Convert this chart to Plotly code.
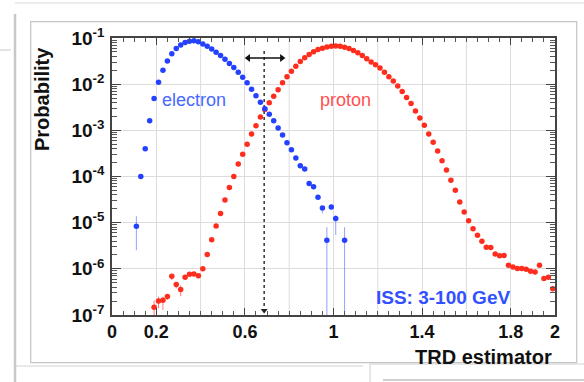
import plotly.graph_objects as go

# ---------------- data ----------------
electron_x = [0.11, 0.13, 0.15, 0.17, 0.19, 0.21, 0.23, 0.25, 0.27, 0.29,
              0.31, 0.33, 0.35, 0.37, 0.39, 0.41, 0.43, 0.45, 0.47, 0.49,
              0.51, 0.53, 0.55, 0.57, 0.59, 0.61, 0.63, 0.65, 0.67, 0.69,
              0.71, 0.73, 0.75, 0.77, 0.79, 0.81, 0.83, 0.85, 0.87, 0.89,
              0.91, 0.93, 0.95, 0.97, 0.99, 1.01, 1.05]
electron_p = [8.32e-6, 1.00e-4, 3.98e-4, 1.62e-3, 4.90e-3, 1.10e-2, 2.00e-2, 3.16e-2, 4.57e-2, 5.89e-2,
              7.08e-2, 7.94e-2, 8.51e-2, 8.71e-2, 8.32e-2, 7.41e-2, 6.61e-2, 5.75e-2, 4.90e-2, 4.17e-2,
              3.47e-2, 2.82e-2, 2.29e-2, 1.82e-2, 1.41e-2, 1.07e-2, 7.76e-3, 5.62e-3, 4.07e-3, 2.95e-3,
              2.24e-3, 1.62e-3, 1.12e-3, 7.94e-4, 5.37e-4, 3.80e-4, 2.51e-4, 1.70e-4, 1.45e-4, 7.08e-5,
              6.03e-5, 3.55e-5, 2.09e-5, 4.17e-6, 2.19e-5, 1.23e-5, 4.17e-6]
# visible error bars (x: (up, down)); others are negligible
electron_err = {0.11: (5.5e-6, 5.8e-6), 0.95: (2.0e-6, 5.0e-6), 0.97: (3.8e-6, 4.13e-6),
                0.99: (3.0e-6, 3.0e-6), 1.01: (2.2e-6, 6.9e-6), 1.05: (3.8e-6, 4.13e-6)}

proton_x = [round(0.19 + 0.02 * i, 2) for i in range(91)]
proton_p = [1.48e-7, 2.00e-7, 2.09e-7, 2.51e-7, 6.92e-7, 4.57e-7, 3.55e-7, 6.61e-7, 7.59e-7, 7.70e-7,
            7.08e-7, 1.00e-6, 2.04e-6, 4.27e-6, 8.51e-6, 1.58e-5, 3.09e-5, 5.75e-5, 1.00e-4, 1.86e-4,
            3.02e-4, 5.01e-4, 8.32e-4, 1.26e-3, 1.95e-3, 2.82e-3, 3.98e-3, 5.50e-3, 7.59e-3, 1.07e-2,
            1.45e-2, 1.91e-2, 2.45e-2, 3.09e-2, 3.72e-2, 4.37e-2, 5.01e-2, 5.62e-2, 6.03e-2, 6.38e-2,
            6.61e-2, 6.68e-2, 6.61e-2, 6.31e-2, 5.89e-2, 5.37e-2, 4.79e-2, 4.17e-2, 3.55e-2, 3.02e-2,
            2.63e-2, 2.24e-2, 1.82e-2, 1.45e-2, 1.17e-2, 9.12e-3, 6.92e-3, 5.13e-3, 3.80e-3, 2.63e-3,
            1.86e-3, 1.29e-3, 8.32e-4, 5.50e-4, 3.55e-4, 2.19e-4, 1.38e-4, 8.32e-5, 5.01e-5, 2.82e-5,
            1.70e-5, 1.10e-5, 7.41e-6, 5.37e-6, 3.98e-6, 2.95e-6, 2.88e-6, 2.09e-6, 1.91e-6, 1.95e-6,
            1.20e-6, 1.10e-6, 1.02e-6, 1.02e-6, 9.77e-7, 8.91e-7, 8.51e-7, 1.20e-6, 6.17e-7, 6.61e-7,
            3.72e-7]
proton_err = {0.19: (0.6e-7, 1.0e-7), 0.21: (0.5e-7, 0.6e-7), 0.23: (0.4e-7, 0.8e-7),
              0.25: (0.3e-7, 0.4e-7), 0.27: (0.8e-7, 1.2e-7), 0.29: (0.6e-7, 0.8e-7),
              0.31: (0.8e-7, 1.0e-7), 0.33: (0.6e-7, 0.7e-7), 0.35: (0.5e-7, 0.5e-7),
              0.37: (0.5e-7, 0.5e-7), 0.39: (0.5e-7, 0.5e-7), 0.41: (0.5e-7, 0.5e-7)}

cut_x = 0.687
arrow_x = [0.615, 0.767]
arrow_p = 3.7e-2

x_tickvals = [0, 0.2, 0.6, 1.0, 1.4, 1.8, 2.0]
x_ticktext = ["0", "0.2", "0.6", "1", "1.4", "1.8", "2"]
x_extra_grid = [0.4, 0.8, 1.2, 1.6]
y_tickvals = [1e-7, 1e-6, 1e-5, 1e-4, 1e-3, 1e-2, 1e-1]
y_ticktext = ["10<sup>-7</sup>", "10<sup>-6</sup>", "10<sup>-5</sup>", "10<sup>-4</sup>",
              "10<sup>-3</sup>", "10<sup>-2</sup>", "10<sup>-1</sup>"]

# ---------------- figure ----------------
W, H = 584, 382
ML, MR, MT, MB = 112, 29, 38, 67
PW, PH = W - ML - MR, H - MT - MB


def px(xp):
    return (xp - ML) / PW


def py(yp):
    return (H - MB - yp) / PH


BLUE = "rgb(35,65,255)"
RED = "rgb(255,45,30)"
GRID = "#dcdcdc"

e_up = [electron_err.get(x, (0, 0))[0] for x in electron_x]
e_dn = [electron_err.get(x, (0, 0))[1] for x in electron_x]
p_up = [proton_err.get(x, (0, 0))[0] for x in proton_x]
p_dn = [proton_err.get(x, (0, 0))[1] for x in proton_x]

fig = go.Figure()

# cut line and arrow
fig.add_trace(go.Scatter(x=[cut_x, cut_x], y=[5.2e-2, 1e-7], mode="lines",
                         line=dict(color="#333", width=1.5, dash="3px,3px"),
                         hoverinfo="skip", showlegend=False))
fig.add_trace(go.Scatter(x=arrow_x, y=[arrow_p, arrow_p], mode="lines+markers",
                         line=dict(color="#111", width=1.5),
                         marker=dict(symbol=["triangle-left", "triangle-right"], size=7, color="#111"),
                         hoverinfo="skip", showlegend=False))
fig.add_trace(go.Scatter(x=[cut_x], y=[1.25e-7], mode="markers",
                         marker=dict(symbol="triangle-down", size=6, color="#222"),
                         hoverinfo="skip", showlegend=False))

fig.add_trace(go.Scatter(
    x=proton_x, y=proton_p, mode="markers", name="proton",
    marker=dict(color=RED, size=5.5),
    error_y=dict(type="data", symmetric=False, array=p_up, arrayminus=p_dn,
                 color="rgba(255,70,60,0.7)", thickness=1, width=0),
    showlegend=False))
fig.add_trace(go.Scatter(
    x=electron_x, y=electron_p, mode="markers", name="electron",
    marker=dict(color=BLUE, size=5.5),
    error_y=dict(type="data", symmetric=False, array=e_up, arrayminus=e_dn,
                 color="rgba(70,100,255,0.6)", thickness=1, width=0),
    showlegend=False))

tickfont = dict(family="Liberation Sans", size=18, color="#111", weight="bold")

fig.update_xaxes(
    range=[0, 2], tickmode="array", tickvals=x_tickvals, ticktext=x_ticktext,
    ticks="inside", ticklen=7, tickcolor="#444", tickwidth=1,
    minor=dict(dtick=0.05, tick0=0, ticks="inside", ticklen=4, tickcolor="#555", showgrid=False),
    showgrid=True, gridcolor=GRID, gridwidth=1,
    showline=True, linecolor="#444", linewidth=1.5, mirror="allticks",
    tickfont=tickfont, zeroline=False)

minor_y = [m * 10 ** e for e in range(-7, -1) for m in range(2, 10)]
fig.update_yaxes(
    type="log", range=[-7, -1], tickmode="array", tickvals=y_tickvals, ticktext=y_ticktext,
    ticks="inside", ticklen=9, tickcolor="#444", tickwidth=1,
    minor=dict(tickmode="array", tickvals=minor_y, ticks="inside", ticklen=5,
               tickcolor="#555", showgrid=False),
    showgrid=True, gridcolor=GRID, gridwidth=1,
    showline=True, linecolor="#444", linewidth=1.5, mirror="allticks",
    tickfont=dict(family="Liberation Sans", size=19, color="#111", weight="bold"),
    zeroline=False, ticklabelstandoff=2)

ann_font_b = dict(family="Liberation Sans", size=20, color="#111", weight="bold")
annotations = [
    dict(text="Probability", xref="paper", yref="paper", x=px(42), y=py(99),
         textangle=-90, showarrow=False, font=ann_font_b, xanchor="center", yanchor="middle"),
    dict(text="TRD estimator", xref="paper", yref="paper", x=px(554), y=py(357),
         showarrow=False, font=ann_font_b, xanchor="right", yanchor="middle"),
    dict(text="electron", xref="paper", yref="paper", x=px(194), y=py(100),
         showarrow=False, font=dict(family="Liberation Sans", size=18, color="rgb(70,105,255)"),
         xanchor="center", yanchor="middle"),
    dict(text="proton", xref="paper", yref="paper", x=px(345), y=py(100),
         showarrow=False, font=dict(family="Liberation Sans", size=18, color="rgb(255,80,80)"),
         xanchor="center", yanchor="middle"),
    dict(text="ISS: 3-100 GeV", xref="paper", yref="paper", x=px(443), y=py(297),
         showarrow=False, font=dict(family="Liberation Sans", size=19, color="rgb(50,80,255)", weight="bold"),
         xanchor="center", yanchor="middle"),
]

shapes = [
    # outer panel frame
    dict(type="rect", xref="paper", yref="paper", x0=px(30.7), x1=px(576.7), y0=py(362.7), y1=py(21.7),
         line=dict(color="#c4c4c4", width=1.2), layer="below"),
    # screenshot edges
    dict(type="line", xref="paper", yref="paper", x0=px(15), x1=px(15), y0=py(14), y1=py(382),
         line=dict(color="#c8c8c8", width=2.5)),
    dict(type="line", xref="paper", yref="paper", x0=px(15), x1=px(584), y0=py(3), y1=py(3),
         line=dict(color="#ececec", width=2)),
    dict(type="line", xref="paper", yref="paper", x0=px(0), x1=px(11), y0=py(50), y1=py(50),
         line=dict(color="#c8c8c8", width=1)),
    dict(type="line", xref="paper", yref="paper", x0=px(15), x1=px(363), y0=py(366), y1=py(366),
         line=dict(color="#d0d0d0", width=1)),
    dict(type="line", xref="paper", yref="paper", x0=px(370), x1=px(584), y0=py(364), y1=py(364),
         line=dict(color="#d0d0d0", width=1)),
    dict(type="line", xref="paper", yref="paper", x0=px(370), x1=px(370), y0=py(364), y1=py(382),
         line=dict(color="#d0d0d0", width=1)),
    dict(type="line", xref="paper", yref="paper", x0=px(383), x1=px(584), y0=py(380), y1=py(380),
         line=dict(color="#c0c0c0", width=1.5)),
]
# the unlabelled vertical grid lines (every 0.2)
for gx in x_extra_grid:
    shapes.append(dict(type="line", xref="x", yref="paper", x0=gx, x1=gx, y0=0, y1=1,
                       line=dict(color=GRID, width=1), layer="below"))

fig.update_layout(
    width=W, height=H, margin=dict(l=ML, r=MR, t=MT, b=MB, autoexpand=False),
    paper_bgcolor="white", plot_bgcolor="white",
    annotations=annotations, shapes=shapes, showlegend=False)

fig.write_html("out.html")
